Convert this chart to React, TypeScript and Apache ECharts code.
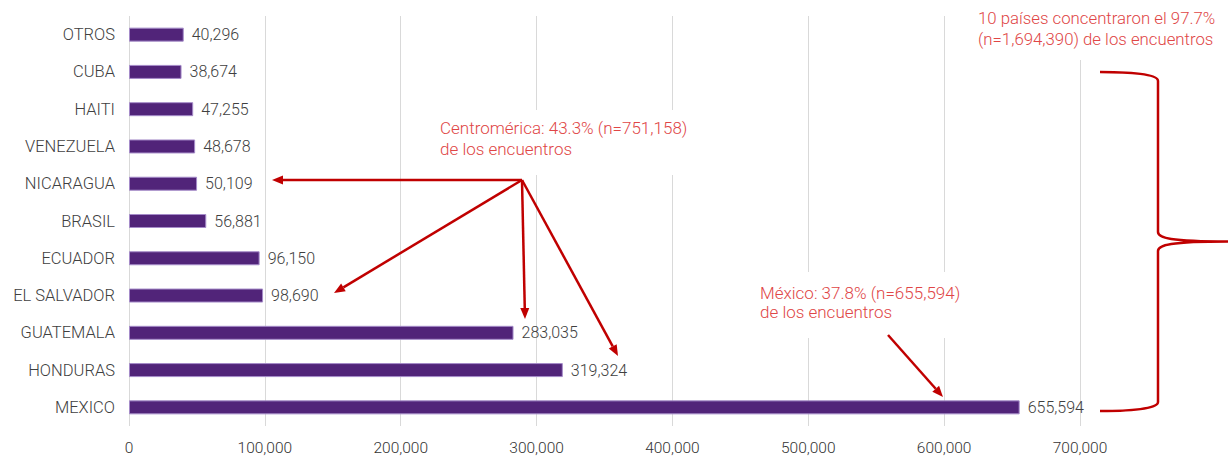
import React, { useEffect, useRef } from "react";
import * as echarts from "echarts";

const categories = ["OTROS", "CUBA", "HAITI", "VENEZUELA", "NICARAGUA", "BRASIL", "ECUADOR", "EL SALVADOR", "GUATEMALA", "HONDURAS", "MEXICO"];
const values = [40296, 38674, 47255, 48678, 50109, 56881, 96150, 98690, 283035, 319324, 655594];
const xTicks = [0, 100000, 200000, 300000, 400000, 500000, 600000, 700000];

const RED = "#C00000";
const TXT = "#E04646";

function arrow(x1: number, y1: number, x2: number, y2: number) {
  const ang = Math.atan2(y2 - y1, x2 - x1);
  const len = 11;
  const w = 4.5;
  const bx = x2 - len * Math.cos(ang);
  const by = y2 - len * Math.sin(ang);
  const px = -Math.sin(ang) * w;
  const py = Math.cos(ang) * w;
  return [
    { type: "line", z: 110, shape: { x1, y1, x2: bx, y2: by }, style: { stroke: RED, lineWidth: 2.5 } },
    { type: "polygon", z: 110, shape: { points: [[x2, y2], [bx + px, by + py], [bx - px, by - py]] }, style: { fill: RED } },
  ];
}

const fmt = (v: number) => v.toLocaleString("en-US");

export default function App() {
  const ref = useRef<HTMLDivElement>(null);
  useEffect(() => {
    if (!ref.current) return;
    echarts.graphic.registerShape(
      "brace",
      echarts.graphic.extendPath(
        "M1100,72 C1130,72 1158,74 1158,81 L1158,232 C1158,238 1170,241.5 1228,241.5 C1170,241.5 1158,245 1158,251 L1158,402 C1158,409 1130,411 1100,411",
        {}
      ) as any
    );
    const chart = echarts.init(ref.current, null, { renderer: "svg" });
    const font = "Roboto";
    chart.setOption({
      animation: false,
      textStyle: { fontFamily: font },
      grid: { left: 129, right: 149, top: 16, bottom: 29, containLabel: false },
      xAxis: {
        type: "value",
        min: 0,
        max: 700000,
        interval: 100000,
        axisLine: { show: false },
        axisTick: { show: false },
        splitLine: { show: true, lineStyle: { color: "#d9d9d9", width: 1 } },
        axisLabel: {
          margin: 14,
          fontSize: 15.5,
          color: "#333",
          fontFamily: font,
          fontWeight: 300,
          formatter: (v: number) => (xTicks.includes(v) ? fmt(v) : ""),
        },
      },
      yAxis: {
        type: "category",
        inverse: true,
        data: categories,
        axisLine: { show: false },
        axisTick: { show: false },
        axisLabel: { margin: 14, fontSize: 16.5, color: "#404040", fontFamily: font, fontWeight: 300 },
      },
      series: [
        {
          type: "bar",
          data: values,
          barWidth: 14,
          itemStyle: { color: "#512479", borderColor: "#a58bc9", borderWidth: 1 },
          label: {
            show: true,
            position: "right",
            distance: 8,
            fontSize: 16,
            color: "#404040",
            fontFamily: font,
            fontWeight: 300,
            formatter: (p: any) => fmt(p.value),
          },
        },
      ],
      graphic: [
        { type: "rect", z: 100, shape: { x: 432, y: 110, width: 272, height: 65 }, style: { fill: "#fff" } },
        { type: "rect", z: 100, shape: { x: 752, y: 272, width: 235, height: 66 }, style: { fill: "#fff" } },
        { type: "rect", z: 100, shape: { x: 968, y: 0, width: 261, height: 60 }, style: { fill: "#fff" } },
        {
          type: "text",
          z: 105,
          x: 440,
          y: 117,
          style: { text: "Centromérica: 43.3% (n=751,158)\nde los encuentros", fill: TXT, font: `300 17px ${font}`, lineHeight: 21 },
        },
        {
          type: "text",
          z: 105,
          x: 760,
          y: 283,
          style: { text: "México: 37.8% (n=655,594)\nde los encuentros", fill: TXT, font: `300 17px ${font}`, lineHeight: 19 },
        },
        {
          type: "text",
          z: 105,
          x: 978,
          y: 7,
          style: { text: "10 países concentraron el 97.7%\n(n=1,694,390) de los encuentros", fill: TXT, font: `300 16.8px ${font}`, lineHeight: 21 },
        },
        ...arrow(522, 180, 272, 180),
        ...arrow(522, 180, 334, 293),
        ...arrow(522, 180, 525, 319),
        ...arrow(522, 180, 618, 356),
        ...arrow(888, 335, 943, 397),
        { type: "brace", z: 110, x: 0, y: 0, style: { stroke: RED, lineWidth: 2.5, fill: null } },
      ],
    });
    return () => chart.dispose();
  }, []);
  return <div ref={ref} style={{ position: "fixed", left: 0, top: 0, width: 1229, height: 456, background: "#fff" }} />;
}
